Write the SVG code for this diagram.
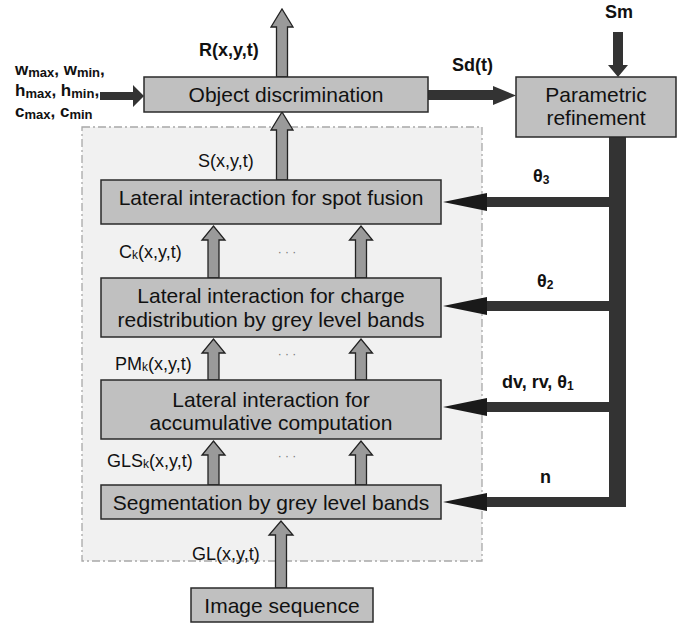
<svg xmlns="http://www.w3.org/2000/svg" width="686" height="624" viewBox="0 0 686 624">
<style>
text{font-family:"Liberation Sans",Arial,sans-serif;fill:#111}
.box{fill:#c0c0c0;stroke:#2a2a2a;stroke-width:1.5}
.bt{font-size:21px;text-anchor:middle}
.lb{font-size:18px}
.bd{font-weight:bold}
.up{fill:#9a9a9a;stroke:#222;stroke-width:1.3;stroke-linejoin:miter}
.dk{fill:#333;stroke:none}
.hd{fill:#1a1a1a}
.dots{font-size:12px;fill:#777;text-anchor:middle}
</style>
<rect x="82" y="127" width="400" height="434" fill="#f1f1f1" stroke="#a8a8a8" stroke-width="1.3" stroke-dasharray="8,3,2,3"/>

<g id="connectors">
  <path class="up" d="M276.5,77 V27 H271 L282,9 L293,27 H287.5 V77 Z"/>
  <path class="up" d="M276.5,180 V130 H271 L282,112 L293,130 H287.5 V180 Z"/>
  <path class="up" d="M208,278 V240 H202 L213.5,226 L225,240 H219 V278 Z"/>
  <path class="up" d="M355.5,278 V240 H349.5 L361,226 L372.5,240 H366.5 V278 Z"/>
  <path class="up" d="M208,380 V353 H202 L213.5,339 L225,353 H219 V380 Z"/>
  <path class="up" d="M355.5,380 V353 H349.5 L361,339 L372.5,353 H366.5 V380 Z"/>
  <path class="up" d="M208,485 V455 H202 L213.5,441 L225,455 H219 V485 Z"/>
  <path class="up" d="M355.5,485 V455 H349.5 L361,441 L372.5,455 H366.5 V485 Z"/>
  <path class="up" d="M275.5,588 V535 H269 L281,521 L293,535 H286.5 V588 Z"/>
  <path class="dk" d="M100,92 H133 V85 L144,96 L133,107 V100 H100 Z"/>
  <path class="dk" d="M428,90 H493 V86 L516,95.5 L493,105 V100 H428 Z"/>
  <path class="dk" d="M613,32 H623 V65 H628 L618,77 L608,65 H613 Z"/>
  <rect class="dk" x="609" y="137" width="17" height="370"/>
  <rect class="dk" x="486" y="197" width="123" height="10"/>
  <path class="hd" d="M487,193 L443,202 L487,211 Z"/>
  <rect class="dk" x="486" y="301" width="123" height="10"/>
  <path class="hd" d="M487,297 L443,306 L487,315 Z"/>
  <rect class="dk" x="486" y="402" width="123" height="10"/>
  <path class="hd" d="M487,398 L443,407 L487,416 Z"/>
  <rect class="dk" x="486" y="497" width="123" height="10"/>
  <path class="hd" d="M487,493 L443,502 L487,511 Z"/>
</g>

<g id="node-object-discrimination">
  <rect class="box" x="144" y="77" width="284" height="35"/>
  <text class="bt" x="286" y="102">Object discrimination</text>
</g>
<g id="node-parametric-refinement">
  <rect class="box" x="516" y="77" width="160" height="60"/>
  <text class="bt" x="596" y="102">Parametric</text>
  <text class="bt" x="596" y="125">refinement</text>
</g>
<g id="node-spot-fusion">
  <rect class="box" x="101" y="180" width="340" height="44"/>
  <text class="bt" x="271" y="205">Lateral interaction for spot fusion</text>
</g>
<g id="node-charge-redistribution">
  <rect class="box" x="101" y="278" width="340" height="59"/>
  <text class="bt" x="271" y="303">Lateral interaction for charge</text>
  <text class="bt" x="271" y="327">redistribution by grey level bands</text>
</g>
<g id="node-accumulative">
  <rect class="box" x="101" y="380" width="340" height="59"/>
  <text class="bt" x="271" y="407">Lateral interaction for</text>
  <text class="bt" x="271" y="430">accumulative computation</text>
</g>
<g id="node-segmentation">
  <rect class="box" x="101" y="485" width="340" height="34"/>
  <text class="bt" x="271" y="510">Segmentation by grey level bands</text>
</g>
<g id="node-image-sequence">
  <rect class="box" x="191" y="588" width="182" height="34"/>
  <text class="bt" x="282" y="613">Image sequence</text>
</g>

<g id="labels">
  <text class="bd" font-size="17" x="15" y="75">w<tspan font-size="13" dy="2">max</tspan><tspan dy="-2">, w</tspan><tspan font-size="13" dy="2">min</tspan><tspan dy="-2">,</tspan></text>
  <text class="bd" font-size="17" x="15" y="96">h<tspan font-size="13" dy="2">max</tspan><tspan dy="-2">, h</tspan><tspan font-size="13" dy="2">min</tspan><tspan dy="-2">,</tspan></text>
  <text class="bd" font-size="17" x="15" y="117">c<tspan font-size="13" dy="2">max</tspan><tspan dy="-2">, c</tspan><tspan font-size="13" dy="2">min</tspan></text>
  <text class="lb bd" x="199" y="56">R(x,y,t)</text>
  <text class="lb" x="198" y="167">S(x,y,t)</text>
  <text class="lb" x="119" y="258">C<tspan font-size="12" dy="1">k</tspan><tspan dy="-1">(x,y,t)</tspan></text>
  <text class="lb" x="115" y="370">PM<tspan font-size="12" dy="1">k</tspan><tspan dy="-1">(x,y,t)</tspan></text>
  <text class="lb" x="107" y="467">GLS<tspan font-size="12" dy="1">k</tspan><tspan dy="-1">(x,y,t)</tspan></text>
  <text class="lb" x="192" y="560">GL(x,y,t)</text>
  <text class="lb bd" x="452" y="71">Sd(t)</text>
  <text class="lb bd" x="605" y="18">Sm</text>
  <text class="lb bd" x="533" y="182">θ<tspan font-size="12" dy="2">3</tspan></text>
  <text class="lb bd" x="537" y="287">θ<tspan font-size="12" dy="2">2</tspan></text>
  <text class="lb bd" x="502" y="388">dv, rv, θ<tspan font-size="12" dy="2">1</tspan></text>
  <text class="lb bd" x="540" y="483">n</text>
  <text class="dots" x="287" y="256">· · ·</text>
  <text class="dots" x="287" y="358">· · ·</text>
  <text class="dots" x="287" y="460">· · ·</text>
</g>
</svg>
